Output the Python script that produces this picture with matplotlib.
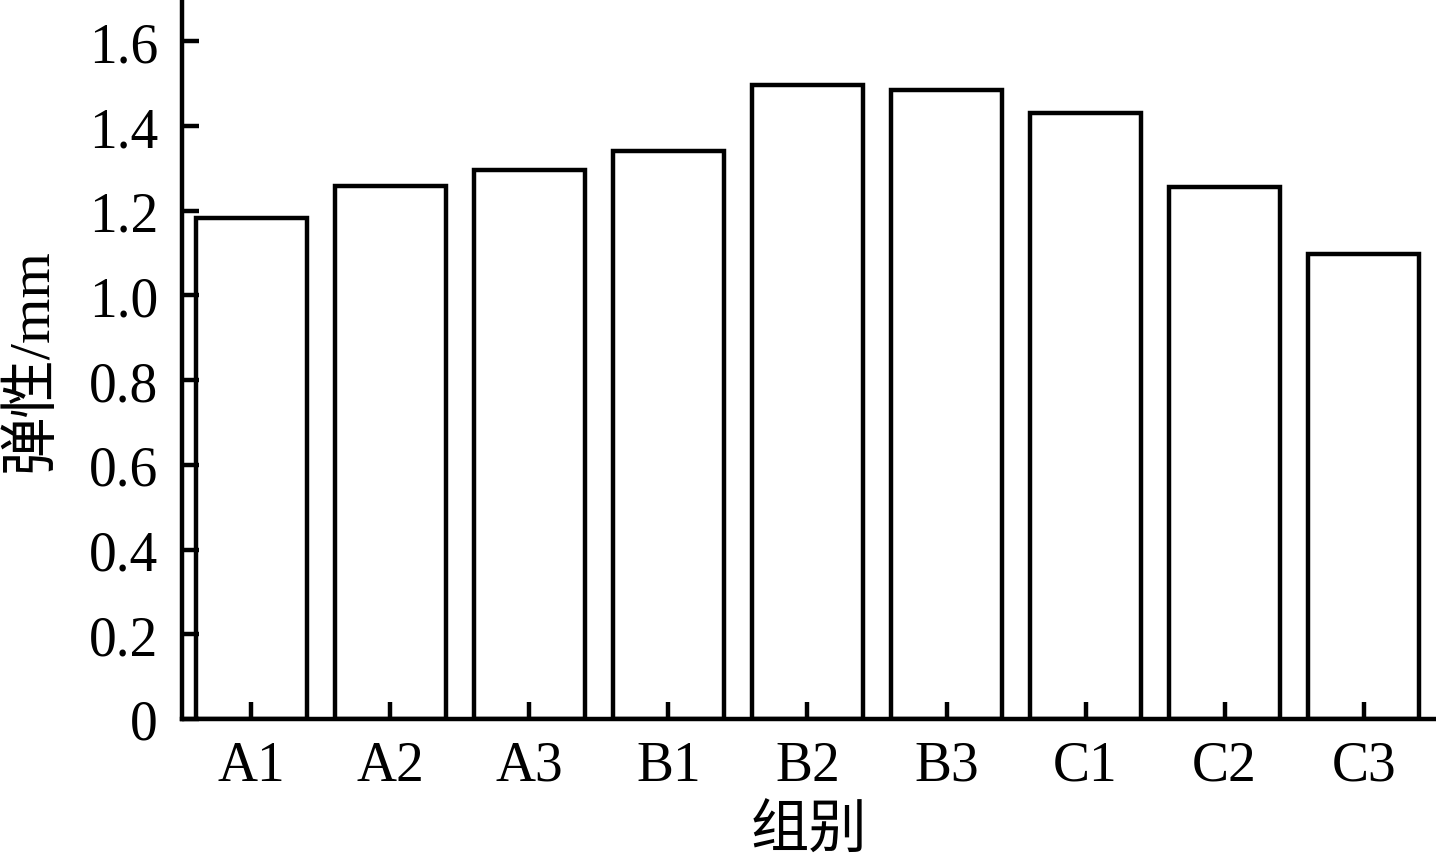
import matplotlib
matplotlib.use("Agg")
import matplotlib.pyplot as plt

categories = ["A1", "A2", "A3", "B1", "B2", "B3", "C1", "C2", "C3"]
values = [1.182, 1.259, 1.296, 1.342, 1.497, 1.484, 1.432, 1.257, 1.099]
yticks = [0, 0.2, 0.4, 0.6, 0.8, 1.0, 1.2, 1.4, 1.6]
ytick_labels = ["0", "0.2", "0.4", "0.6", "0.8", "1.0", "1.2", "1.4", "1.6"]
xlabel = "组别"
ylabel = "弹性/mm"

fam = ["Liberation Serif", "Noto Sans CJK SC", "DejaVu Sans"]
plt.rcParams["font.family"] = fam

W, H = 1436, 862
fig = plt.figure(figsize=(W / 100, H / 100), dpi=100)
left = 181.7 / W
bottom = (H - 720) / H
ax = fig.add_axes([left, bottom, 1.0 - left, 720 / H])

x = list(range(len(categories)))
ax.bar(x, values, width=0.8, color="white", edgecolor="black", linewidth=3.2)

ax.set_xlim(-0.5, -0.5 + (W - 181.7) / 139.06)
ax.set_ylim(0, 1.7)
ax.set_yticks(yticks)
ax.set_yticklabels(ytick_labels)
ax.set_xticks(x)
ax.set_xticklabels(categories)

for s in ["top", "right"]:
    ax.spines[s].set_visible(False)
for s in ["left", "bottom"]:
    ax.spines[s].set_linewidth(3.2)

ax.tick_params(axis="both", direction="in", length=12.5, width=3.2, labelsize=40, colors="black")
ax.tick_params(axis="y", pad=17)
ax.tick_params(axis="x", pad=15)

ax.set_xlabel(xlabel, fontsize=42, family=fam, labelpad=9)
ax.set_ylabel(ylabel, fontsize=42, family=fam, labelpad=22)

fig.savefig("out.png", dpi=100)
